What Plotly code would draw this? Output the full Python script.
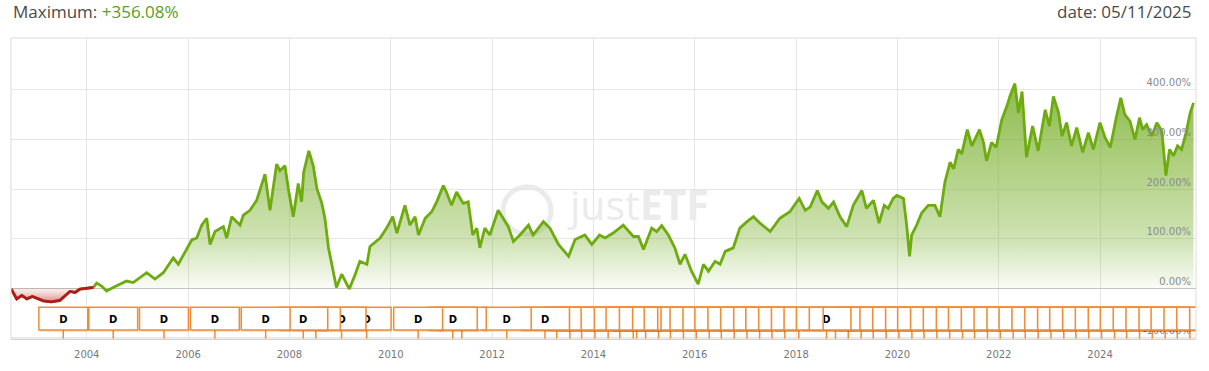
import plotly.graph_objects as go
import pandas as pd

# ---------------- data ----------------
dates = [
    "2002-07-05", "2002-08-14", "2002-09-20", "2002-10-26", "2002-12-05", "2003-01-12",
    "2003-02-22", "2003-04-20", "2003-06-22", "2003-08-04", "2003-09-02", "2003-10-09",
    "2003-11-13", "2004-02-17", "2004-03-13", "2004-04-17", "2004-05-23", "2004-07-10",
    "2004-10-14", "2004-12-01", "2005-03-08", "2005-05-07", "2005-07-06", "2005-09-16",
    "2005-10-22", "2006-01-27", "2006-03-04", "2006-04-09", "2006-05-15", "2006-06-08",
    "2006-07-14", "2006-09-12", "2006-10-06", "2006-11-11", "2007-01-10", "2007-02-03",
    "2007-03-23", "2007-05-10", "2007-07-09", "2007-08-14", "2007-10-01", "2007-10-25",
    "2007-11-30", "2007-12-24", "2008-01-29", "2008-03-05", "2008-03-29", "2008-04-13",
    "2008-05-20", "2008-06-21", "2008-07-17", "2008-08-22", "2008-09-13", "2008-10-09",
    "2008-11-03", "2008-11-25", "2008-12-05", "2009-01-12", "2009-02-17", "2009-03-08",
    "2009-04-20", "2009-05-23", "2009-07-13", "2009-08-04", "2009-10-16", "2009-12-02",
    "2010-01-15", "2010-02-14", "2010-04-13", "2010-05-19", "2010-06-25", "2010-07-20",
    "2010-09-06", "2010-10-23", "2010-11-28", "2011-01-15", "2011-02-06", "2011-03-15",
    "2011-04-20", "2011-06-07", "2011-07-13", "2011-08-15", "2011-09-13", "2011-10-05",
    "2011-11-10", "2011-12-16", "2012-02-14", "2012-03-22", "2012-04-27", "2012-06-03",
    "2012-07-20", "2012-09-20", "2012-10-23", "2013-01-05", "2013-02-21", "2013-04-24",
    "2013-07-06", "2013-08-22", "2013-10-31", "2013-12-20", "2014-02-14", "2014-03-26",
    "2014-05-23", "2014-08-04", "2014-10-16", "2014-11-21", "2014-12-28", "2015-02-25",
    "2015-04-02", "2015-05-08", "2015-06-25", "2015-08-11", "2015-09-17", "2015-10-23",
    "2015-12-09", "2016-01-26", "2016-03-04", "2016-04-09", "2016-05-27", "2016-07-02",
    "2016-08-08", "2016-10-05", "2016-11-21", "2017-01-12", "2017-02-28", "2017-04-16",
    "2017-06-28", "2017-09-06", "2017-11-17", "2018-01-23", "2018-03-08", "2018-04-13",
    "2018-06-03", "2018-07-06", "2018-08-22", "2018-09-28", "2018-11-14", "2019-01-01",
    "2019-02-17", "2019-04-20", "2019-05-23", "2019-07-13", "2019-08-22", "2019-09-28",
    "2019-10-27", "2019-12-02", "2019-12-28", "2020-02-14", "2020-03-08", "2020-03-29",
    "2020-04-13", "2020-05-19", "2020-06-25", "2020-08-11", "2020-09-28", "2020-11-03",
    "2020-12-09", "2021-01-15", "2021-02-10", "2021-03-15", "2021-04-09", "2021-05-19",
    "2021-06-21", "2021-08-15", "2021-09-13", "2021-10-05", "2021-11-10", "2021-12-13",
    "2022-01-23", "2022-02-28", "2022-03-22", "2022-04-27", "2022-05-23", "2022-06-18",
    "2022-07-20", "2022-09-02", "2022-10-12", "2022-12-02", "2023-01-01", "2023-01-30",
    "2023-03-08", "2023-04-02", "2023-05-05", "2023-06-10", "2023-07-17", "2023-08-29",
    "2023-10-09", "2023-11-14", "2024-01-01", "2024-02-06", "2024-03-15", "2024-04-27",
    "2024-05-30", "2024-06-28", "2024-08-04", "2024-09-09", "2024-10-12", "2024-11-03",
    "2024-12-02", "2025-01-08", "2025-02-14", "2025-03-22", "2025-04-05", "2025-04-20",
    "2025-05-16", "2025-06-14", "2025-07-13", "2025-08-11", "2025-09-13", "2025-10-12",
    "2025-11-05",
]
performance = [
    -2, -22, -15, -22, -17, -22,
    -26, -28, -25, -14, -7, -9,
    -2, 1, 10, 4, -6, 1,
    14, 11, 31, 18, 31, 61,
    48, 97, 101, 127, 141, 88,
    114, 124, 101, 144, 127, 147,
    157, 177, 230, 157, 250, 237,
    247, 201, 144, 211, 174, 234,
    277, 247, 201, 171, 141, 81,
    48, 21, 1, 28, 8, -2,
    28, 54, 48, 84, 101, 121,
    144, 111, 167, 127, 144, 107,
    141, 154, 174, 207, 194, 167,
    194, 171, 174, 107, 121, 81,
    121, 107, 157, 141, 124, 94,
    107, 127, 107, 134, 121, 88,
    64, 98, 107, 88, 107, 101,
    111, 127, 104, 104, 78, 121,
    114, 126, 107, 81, 48, 68,
    34, 8, 48, 34, 54, 48,
    74, 81, 121, 134, 144, 131,
    114, 141, 154, 181, 157, 164,
    197, 174, 161, 174, 144, 124,
    167, 197, 161, 177, 131, 167,
    161, 181, 187, 181, 127, 64,
    107, 127, 152, 167, 167, 144,
    214, 254, 241, 280, 271, 320,
    287, 320, 294, 257, 294, 284,
    340, 367, 387, 413, 354, 397,
    264, 327, 277, 360, 327, 387,
    354, 307, 334, 287, 324, 274,
    314, 280, 334, 304, 284, 344,
    384, 350, 337, 300, 344, 320,
    330, 307, 334, 317, 267, 227,
    280, 267, 287, 280, 314, 354,
    374,
]
negative_points = 14  # leading points drawn in red (below zero)

dividend_dates = [
    "2003-07-16", "2004-07-10", "2005-07-11", "2006-07-13", "2007-07-14",
    "2008-04-10", "2008-07-10", "2009-01-11", "2009-07-11",
    "2010-07-17", "2011-03-24", "2011-05-28", "2012-04-16",
    "2013-01-17", "2013-04-11", "2013-07-15", "2013-10-08",
    "2014-01-12", "2014-04-17", "2014-07-10", "2014-10-15", "2014-11-08",
    "2015-01-12", "2015-04-15", "2015-07-10", "2015-10-12",
    "2016-01-12", "2016-04-15", "2016-07-11", "2016-10-12",
    "2017-01-12", "2017-04-13", "2017-07-11", "2017-10-12",
    "2018-01-20", "2018-08-08", "2018-10-12",
    "2019-01-12", "2019-04-15", "2019-07-11", "2019-10-12",
    "2020-01-12", "2020-04-15", "2020-07-11", "2020-10-12",
    "2021-01-12", "2021-04-15", "2021-07-11", "2021-10-12",
    "2022-01-12", "2022-04-15", "2022-07-11", "2022-10-12",
    "2023-01-12", "2023-04-15", "2023-07-11", "2023-10-12",
    "2024-01-12", "2024-04-15", "2024-07-11", "2024-10-12",
    "2025-01-12", "2025-04-15", "2025-07-11", "2025-10-10",
]
flag_text = "D"

y_tick_values = [-100, 0, 100, 200, 300, 400]
x_range = ["2002-07-04", "2025-11-23"]
y_range = [-103, 505]

header_label = "Maximum: "
header_value = "+356.08%"
date_label = "date: 05/11/2025"
watermark_light = "just"
watermark_bold = "ETF"

# ---------------- styling ----------------
GREEN = "#6dab0f"
RED = "#b3191c"
ORANGE = "#f28c35"
GRID = "#e6e6e6"

fig = go.Figure()

fig.add_trace(go.Scatter(
    x=dates, y=performance, mode="lines",
    line=dict(color=GREEN, width=2.8),
    fill="tozeroy",
    fillgradient=dict(type="vertical", start=0, stop=430,
                      colorscale=[[0, "rgba(112,170,30,0.02)"],
                                  [0.23, "rgba(112,170,30,0.33)"],
                                  [1, "rgba(112,170,30,0.82)"]]),
    hoverinfo="skip", showlegend=False,
))
fig.add_trace(go.Scatter(
    x=dates[:negative_points], y=performance[:negative_points], mode="lines",
    line=dict(color=RED, width=2.8),
    fill="tozeroy",
    fillgradient=dict(type="vertical", start=-30, stop=0,
                      colorscale=[[0, "rgba(185,30,30,0.65)"],
                                  [1, "rgba(210,80,80,0.12)"]]),
    hoverinfo="skip", showlegend=False,
))

# ---------------- dividend flags ----------------
half_width = pd.Timedelta(days=176)
shadow_shift = pd.Timedelta(days=7)
box_bottom, box_top = 0.0296, 0.1051
shadow_drop = 0.0066
shapes = []

# watermark ring (below the data)
shapes.append(dict(type="circle", xref="paper", yref="paper",
                   x0=0.4152, x1=0.4557, y0=0.348, y1=0.5057,
                   line=dict(color="#ebebeb", width=5), layer="below"))

flag_shapes = []
for d in reversed(pd.to_datetime(dividend_dates)):
    flag_shapes.append(dict(type="line", xref="x", yref="paper", x0=d, x1=d,
                            y0=0, y1=box_bottom,
                            line=dict(color=ORANGE, width=1.5), layer="above"))
    flag_shapes.append(dict(type="rect", xref="x", yref="paper",
                            x0=d - half_width + shadow_shift, x1=d + half_width + shadow_shift,
                            y0=box_bottom - shadow_drop, y1=box_top - shadow_drop,
                            fillcolor="rgba(0,0,0,0.10)", line=dict(width=0), layer="above"))
    flag_shapes.append(dict(type="rect", xref="x", yref="paper",
                            x0=d - half_width, x1=d + half_width,
                            y0=box_bottom, y1=box_top,
                            fillcolor="white", line=dict(color=ORANGE, width=1.5),
                            layer="above",
                            label=dict(text=flag_text, textposition="middle center",
                                       font=dict(family="DejaVu Sans", size=10,
                                                 color="black", weight="bold"))))
shapes.extend(flag_shapes)

# plot frame
shapes.append(dict(type="rect", xref="paper", yref="paper", x0=0, x1=1, y0=0, y1=1,
                   line=dict(color="#dcdcdc", width=1), fillcolor="rgba(0,0,0,0)",
                   layer="above"))

annotations = [
    dict(xref="paper", yref="paper", x=0, y=1.087, xanchor="left", yanchor="middle",
         text=f"{header_label}<span style='color:#5a9e1e'>{header_value}</span>",
         showarrow=False, font=dict(family="Open Sans", size=17, color="#4a4a4a")),
    dict(xref="paper", yref="paper", x=1, xshift=-2, y=1.087, xanchor="right",
         yanchor="middle", text=date_label, showarrow=False,
         font=dict(family="Open Sans", size=17, color="#4a4a4a")),
    dict(xref="paper", yref="paper", x=0.4675, y=0.447, xanchor="left", yanchor="middle",
         text=f"{watermark_light}<b>{watermark_bold}</b>", showarrow=False,
         font=dict(family="Open Sans", size=41, color="#ebebeb")),
]

fig.update_layout(
    width=1209, height=371,
    margin=dict(l=11, r=13, t=38, b=29),
    paper_bgcolor="white", plot_bgcolor="white",
    showlegend=False,
    hovermode=False,
    shapes=shapes,
    annotations=annotations,
    xaxis=dict(type="date", range=x_range, tick0="2004-01-01", dtick="M24",
               tickformat="%Y", showgrid=True, gridcolor=GRID, gridwidth=1,
               showline=True, linecolor="#c8c8c8", linewidth=1, ticks="",
               ticklabelstandoff=6, zeroline=False, fixedrange=True,
               tickfont=dict(family="DejaVu Sans", size=10, color="#777777")),
    yaxis=dict(range=y_range, tickvals=y_tick_values,
               ticktext=[f"{v:.2f}%" for v in y_tick_values],
               side="right", ticklabelposition="inside", ticklabelshift=-7,
               ticklabelstandoff=2, showgrid=True, gridcolor=GRID, gridwidth=1,
               zeroline=True, zerolinecolor="#c4c4c4", zerolinewidth=1,
               showline=False, ticks="", fixedrange=True,
               tickfont=dict(family="DejaVu Sans", size=10, color="#8a8a8a")),
)

fig.write_html("out.html", config={"displayModeBar": False, "staticPlot": True},
               post_script="document.body.style.margin='0';")
